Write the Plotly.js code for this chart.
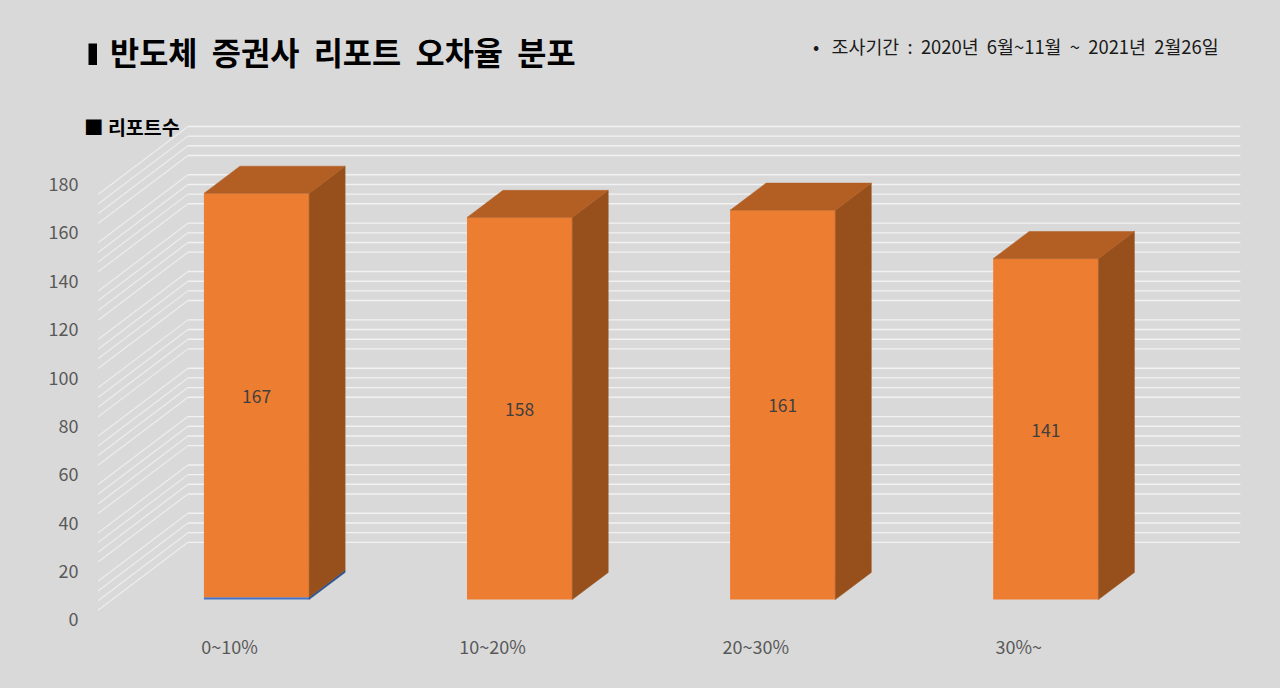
<!DOCTYPE html>
<html><head><meta charset="utf-8">
<script src="https://cdn.plot.ly/plotly-3.0.1.min.js"></script>
<style>html,body{margin:0;padding:0;background:#d9d9d9}#c{width:1280px;height:688px}</style>
</head><body><div id="c"></div>
<script>
const categories = ['0~10%','10~20%','20~30%','30%~'];
const positions = [0,1,2,3];
const baseSeries = [1,null,null,null];
const reportCounts = [167,158,161,141];
const yTicks = [0,20,40,60,80,100,120,140,160,180];
const minorGrid = [4,8,12,16,24,28,32,36,44,48,52,56,64,68,72,76,84,88,92,96,104,108,112,116,124,128,132,136,144,148,152,156,164,168,172,176];

const FONT = '"Noto Sans CJK KR","Noto Sans",sans-serif';
const depthX = 0.342, depthY = 28.12;
const barNear = 0.3, barFar = 0.7, barW = 0.4;
const xMin = -0.5, xBack = 3.5;

const projX=(x,d)=>x+d*depthX, projY=(v,d)=>v+d*depthY;
const poly=(xs,ys,color)=>({type:'scatter',mode:'lines',x:xs,y:ys,fill:'toself',fillcolor:color,
  line:{color:color,width:0.5},hoverinfo:'skip',showlegend:false,cliponaxis:false});
const sideFace=(i,lo,hi,color)=>{const r=positions[i]+barW/2;
  return poly([projX(r,barNear),projX(r,barFar),projX(r,barFar),projX(r,barNear),projX(r,barNear)],
              [projY(lo,barNear),projY(lo,barFar),projY(hi,barFar),projY(hi,barNear),projY(lo,barNear)],color);};
const topFace=(i,v,color)=>{const l=positions[i]-barW/2,r=positions[i]+barW/2;
  return poly([projX(l,barNear),projX(r,barNear),projX(r,barFar),projX(l,barFar),projX(l,barNear)],
              [projY(v,barNear),projY(v,barNear),projY(v,barFar),projY(v,barFar),projY(v,barNear)],color);};

const traces=[];
const starts=baseSeries.map(v=>v||0);
traces.push({type:'bar',x:positions.map(p=>projX(p,barNear)),y:baseSeries,base:positions.map(()=>projY(0,barNear)),
  width:barW,marker:{color:'#4472C4',line:{width:0}},hoverinfo:'skip',showlegend:false});
traces.push({type:'bar',x:positions.map(p=>projX(p,barNear)),y:reportCounts,base:starts.map(s=>projY(s,barNear)),
  width:barW,marker:{color:'#ED7D31',line:{width:0}},text:reportCounts.map(String),textposition:'inside',
  insidetextanchor:'middle',textangle:0,constraintext:'none',
  insidetextfont:{family:FONT,size:17.5,color:'#404040'},hoverinfo:'skip',showlegend:false});
positions.forEach((p,i)=>{
  if(baseSeries[i]) traces.push(sideFace(i,0,baseSeries[i],'#2F528F'));
  const t=starts[i]+reportCounts[i];
  traces.push(sideFace(i,starts[i],t,'#97501C'));
  traces.push(topFace(i,t,'#B35E22'));
});

const W=1280,H=688,L=97.5,R=38,T=120,B=68;
const pw=W-L-R, ph=H-T-B;
const pageX=p=>(p-L)/pw, pageY=p=>(H-B-p)/ph;

const shapes=[];
minorGrid.forEach(v=>{
  shapes.push({type:'path',xref:'x',yref:'y',layer:'below',
    path:`M ${xMin} ${v} L ${projX(xMin,1)} ${projY(v,1)}`,line:{color:'#EDEDED',width:1.2}});
  shapes.push({type:'path',xref:'x',yref:'y',layer:'below',
    path:`M ${projX(xMin,1)} ${projY(v,1)} L ${projX(xBack,1)} ${projY(v,1)}`,line:{color:'#F2F2F2',width:1.4}});
});
shapes.push({type:'rect',xref:'paper',yref:'paper',x0:pageX(88),x1:pageX(96.5),y0:pageY(65),y1:pageY(43.5),fillcolor:'#000000',line:{width:0}});

const layout={
  width:W,height:H,paper_bgcolor:'#D9D9D9',plot_bgcolor:'#D9D9D9',showlegend:false,barmode:'overlay',
  margin:{l:L,r:R,t:T,b:B,pad:0},
  title:{text:'<b>반도체\u00A0 증권사\u00A0 리포트\u00A0 오차율\u00A0 분포</b>',font:{family:FONT,size:31.7,color:'#000000'},
    x:110/W,xanchor:'left',xref:'container',y:1-54/H,yanchor:'middle',yref:'container'},
  xaxis:{range:[xMin,xMin+pw/263.2],tickmode:'array',tickvals:positions,ticktext:categories,
    showgrid:false,zeroline:false,showline:false,ticks:'outside',ticklen:11,tickcolor:'rgba(0,0,0,0)',
    tickfont:{family:FONT,size:18,color:'#595959'},automargin:false},
  yaxis:{range:[0,ph/2.418],tickmode:'array',tickvals:yTicks,ticklabelshift:-1.5,
    showgrid:false,zeroline:false,showline:false,ticks:'outside',ticklen:15,tickcolor:'rgba(0,0,0,0)',
    tickfont:{family:FONT,size:18,color:'#595959'},automargin:false},
  shapes:shapes,
  annotations:[
    {text:'•   조사기간\u00A0 :\u00A0 2020년\u00A0 6월~11월\u00A0 ~\u00A0 2021년\u00A0 2월26일',xref:'paper',yref:'paper',x:pageX(811),y:pageY(46.5),
     xanchor:'left',yanchor:'middle',showarrow:false,font:{family:FONT,size:18.4,color:'#1a1a1a'}},
    {text:'<b>■ 리포트수</b>',xref:'paper',yref:'paper',x:pageX(81.5),y:pageY(126),
     xanchor:'left',yanchor:'middle',showarrow:false,font:{family:FONT,size:19.5,color:'#000000'}}
  ]
};
Plotly.newPlot('c',traces,layout,{displayModeBar:false,staticPlot:true});
</script></body></html>
